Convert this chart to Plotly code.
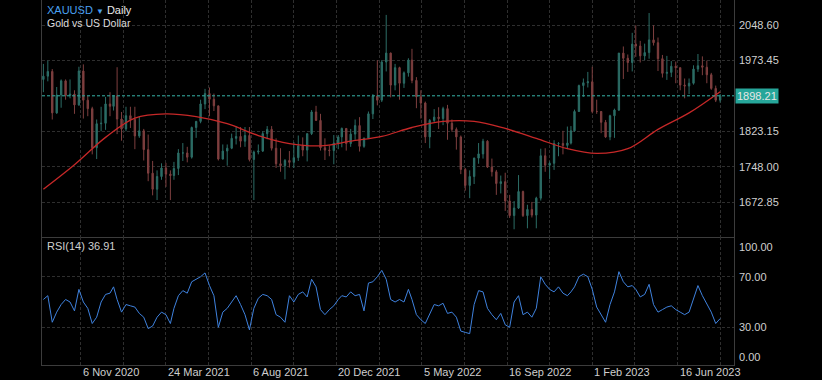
import numpy as np
import pandas as pd
import plotly.graph_objects as go

# ---------------- data ----------------
start_monday = "2020-09-07"
holidays = ["2020-12-25", "2021-01-01", "2021-04-02", "2021-12-24",
            "2022-04-15", "2022-12-26", "2023-01-02", "2023-04-07"]

# weekly candles (week 0 = week of 7 Sep 2020 ... week 154 = week of 21 Aug 2023)
week_open = [
    1933, 1940, 1950, 1862, 1900, 1930, 1899, 1902, 1879, 1951, 1889, 1871, 1788, 1839, 1840, 1881,
    1876, 1898, 1849, 1828, 1856, 1848, 1813, 1824, 1784, 1734, 1700, 1727, 1745, 1732, 1729, 1744,
    1777, 1777, 1768, 1831, 1844, 1881, 1903, 1891, 1877, 1764, 1781, 1787, 1808, 1812, 1802, 1814,
    1763, 1779, 1781, 1818, 1827, 1787, 1754, 1750, 1761, 1757, 1767, 1792, 1783, 1818, 1864, 1846,
    1788, 1783, 1782, 1798, 1811, 1829, 1797, 1817, 1835, 1791, 1808, 1860, 1898, 1889, 1970, 1989,
    1921, 1958, 1925, 1947, 1974, 1931, 1896, 1883, 1811, 1846, 1853, 1850, 1871, 1840, 1827, 1811,
    1742, 1708, 1727, 1766, 1775, 1802, 1747, 1737, 1712, 1716, 1675, 1644, 1660, 1695, 1644, 1657,
    1645, 1681, 1771, 1751, 1755, 1797, 1797, 1793, 1798, 1824, 1865, 1920, 1926, 1928, 1865, 1865,
    1842, 1811, 1856, 1868, 1989, 1978, 1969, 2008, 2004, 1983, 1990, 2017, 2011, 1977, 1946, 1948,
    1961, 1958, 1921, 1919, 1925, 1955, 1962, 1959, 1943, 1914, 1889]
week_high = [
    1966, 1973, 1955, 1917, 1933, 1933, 1933, 1910, 1960, 1965, 1898, 1875, 1848, 1875, 1896, 1906,
    1900, 1959, 1864, 1875, 1875, 1875, 1855, 1828, 1816, 1760, 1740, 1755, 1756, 1740, 1758, 1785,
    1798, 1790, 1833, 1845, 1890, 1913, 1916, 1903, 1877, 1795, 1795, 1818, 1834, 1832, 1832, 1832,
    1782, 1795, 1823, 1834, 1834, 1808, 1787, 1764, 1781, 1800, 1814, 1810, 1818, 1868, 1877, 1860,
    1808, 1793, 1815, 1815, 1831, 1830, 1828, 1848, 1853, 1810, 1865, 1902, 1974, 1974, 2070, 1990,
    1966, 1960, 1950, 1978, 1998, 1938, 1910, 1886, 1849, 1870, 1874, 1875, 1879, 1848, 1831, 1814,
    1745, 1740, 1767, 1798, 1807, 1804, 1765, 1741, 1729, 1735, 1688, 1675, 1730, 1697, 1667, 1673,
    1684, 1786, 1787, 1759, 1804, 1800, 1824, 1833, 1834, 1869, 1922, 1935, 1949, 1960, 1890, 1866,
    1847, 1858, 1871, 1989, 2003, 1986, 2032, 2048, 2015, 2009, 2074, 2048, 2022, 1985, 1983, 1972,
    1971, 1958, 1935, 1935, 1963, 1987, 1982, 1973, 1947, 1920, 1902]
week_low = [
    1906, 1929, 1848, 1860, 1873, 1890, 1893, 1860, 1877, 1850, 1855, 1774, 1764, 1823, 1826, 1855,
    1867, 1817, 1803, 1823, 1830, 1785, 1809, 1761, 1717, 1687, 1677, 1720, 1705, 1677, 1720, 1730,
    1760, 1757, 1765, 1809, 1840, 1870, 1855, 1866, 1761, 1763, 1750, 1785, 1795, 1789, 1790, 1759,
    1677, 1774, 1779, 1806, 1782, 1745, 1737, 1721, 1746, 1745, 1760, 1770, 1759, 1815, 1845, 1782,
    1762, 1770, 1753, 1785, 1789, 1782, 1790, 1805, 1780, 1788, 1807, 1849, 1878, 1885, 1950, 1895,
    1910, 1890, 1915, 1939, 1925, 1872, 1850, 1798, 1787, 1842, 1828, 1836, 1805, 1822, 1784, 1732,
    1697, 1681, 1711, 1754, 1765, 1745, 1727, 1688, 1691, 1654, 1639, 1615, 1658, 1641, 1617, 1640,
    1617, 1676, 1737, 1721, 1741, 1770, 1774, 1785, 1795, 1822, 1864, 1896, 1916, 1861, 1860, 1819,
    1809, 1804, 1809, 1866, 1934, 1949, 1950, 1981, 1969, 1974, 1977, 2005, 1951, 1937, 1932, 1938,
    1925, 1910, 1893, 1902, 1922, 1949, 1942, 1925, 1911, 1885, 1884]
week_close = [
    1940, 1950, 1862, 1900, 1930, 1899, 1902, 1879, 1951, 1889, 1871, 1788, 1839, 1840, 1881, 1876,
    1898, 1849, 1828, 1856, 1848, 1813, 1824, 1784, 1734, 1700, 1727, 1745, 1732, 1729, 1744, 1777,
    1777, 1768, 1831, 1844, 1881, 1903, 1891, 1877, 1764, 1781, 1787, 1808, 1812, 1802, 1814, 1763,
    1779, 1781, 1818, 1827, 1787, 1754, 1750, 1761, 1757, 1767, 1792, 1783, 1818, 1864, 1846, 1788,
    1783, 1782, 1798, 1811, 1829, 1797, 1817, 1835, 1791, 1808, 1860, 1898, 1889, 1970, 1989, 1921,
    1958, 1925, 1947, 1974, 1931, 1896, 1883, 1811, 1846, 1853, 1850, 1871, 1840, 1827, 1811, 1742,
    1708, 1727, 1766, 1775, 1802, 1747, 1737, 1712, 1716, 1675, 1644, 1660, 1695, 1644, 1657, 1645,
    1681, 1771, 1751, 1755, 1797, 1797, 1793, 1798, 1824, 1865, 1920, 1926, 1928, 1865, 1865, 1842,
    1811, 1856, 1868, 1989, 1978, 1969, 2008, 2004, 1983, 1990, 2017, 2011, 1977, 1946, 1948, 1961,
    1958, 1921, 1919, 1925, 1955, 1962, 1959, 1943, 1914, 1889, 1898.21]

# moving average (red), read every 7th week
ma_every7 = [1700, 1752, 1810, 1851, 1860, 1854, 1839, 1814, 1797, 1792, 1802, 1812,
             1831, 1844, 1844, 1829, 1808, 1786, 1776, 1786, 1827, 1862, 1907]

# RSI(14), one reading per week
rsi_weekly = [
    52, 55, 34, 42, 48, 52, 50, 43, 60, 50, 45, 33, 38, 50, 56, 57, 62, 52, 42, 48,
    47, 46, 41, 38, 29, 31, 38, 42, 40, 33, 45, 55, 59, 57, 66, 68, 70, 73, 63, 55,
    30, 42, 45, 50, 55, 48, 40, 28, 45, 53, 56, 55, 52, 40, 38, 34, 55, 50, 56, 58,
    54, 68, 62, 44, 40, 44, 47, 52, 55, 54, 58, 55, 56, 43, 65, 66, 70, 75, 68, 52,
    50, 52, 50, 60, 52, 40, 36, 33, 40, 48, 47, 49, 41, 42, 38, 27, 26, 25, 48, 59,
    58, 45, 40, 36, 41, 32, 30, 50, 55, 40, 42, 38, 45, 70, 64, 60, 58, 62, 57, 55,
    58, 62, 70, 72, 70, 60, 46, 40, 34, 48, 58, 74, 66, 62, 63, 60, 54, 56, 64, 48,
    42, 44, 46, 47, 44, 42, 40, 42, 52, 63, 55, 48, 42, 33, 36.91]

tick_dates = ["2020-11-06", "2021-03-24", "2021-08-06", "2021-12-20",
              "2022-05-05", "2022-09-16", "2023-02-01", "2023-06-16"]
tick_labels = ["6 Nov 2020", "24 Mar 2021", "6 Aug 2021", "20 Dec 2021",
               "5 May 2022", "16 Sep 2022", "1 Feb 2023", "16 Jun 2023"]
price_ticks = [2048.60, 1973.45, 1898.30, 1823.15, 1748.00, 1672.85]
rsi_ticks = [100, 70, 30, 0]
last_price = 1898.21
rsi_last = 36.91

# ---------------- positions (trading-day index) ----------------
hol = np.array(holidays, dtype="datetime64[D]")
s0 = np.datetime64(start_monday)
n = len(week_close)
mondays = pd.date_range(start_monday, periods=n, freq="7D")
weds = (mondays + pd.Timedelta(days=2)).values.astype("datetime64[D]")
bar = np.busday_count(s0, weds, holidays=hol)
tick_bar = np.busday_count(s0, np.array(tick_dates, dtype="datetime64[D]"), holidays=hol)
grid_bar = sorted(list(tick_bar) + list(tick_bar + 48))

px_per_bar = 85.3 / 96.0
x0 = tick_bar[0] - (80.7 - 42.0) / px_per_bar
x1 = tick_bar[0] + (734.3 - 80.7) / px_per_bar

# ---------------- style ----------------
BG = "#000000"
GRID = "#2e2e2e"
BORDER = "#3c3c3c"
TXT = "#cfcfcf"
INC = "#2c6d66"
DEC = "#7e3f3f"
TEAL = "#26a69a"
FONT = "Liberation Sans, Arial, sans-serif"
split = (365 - 237) / 365.0
RSI_RANGE = [0.2, 101.4]

fig = go.Figure()
fig.add_trace(go.Candlestick(
    x=bar, open=week_open, high=week_high, low=week_low, close=week_close,
    increasing=dict(line=dict(color=INC, width=1), fillcolor=INC),
    decreasing=dict(line=dict(color=DEC, width=1), fillcolor=DEC),
    whiskerwidth=0, xaxis="x", yaxis="y", showlegend=False, hoverinfo="skip"))
fig.add_trace(go.Scatter(
    x=bar[::7], y=ma_every7, mode="lines", xaxis="x", yaxis="y",
    line=dict(color="#c62828", width=1.3, shape="spline", smoothing=1.0),
    showlegend=False, hoverinfo="skip"))
fig.add_trace(go.Scatter(
    x=bar, y=rsi_weekly, mode="lines", xaxis="x2", yaxis="y2",
    line=dict(color="#3f82de", width=1), showlegend=False, hoverinfo="skip"))

axis_common = dict(showgrid=True, gridcolor=GRID, griddash="3px,2px", gridwidth=1,
                   zeroline=False, showticklabels=False, ticks="",
                   showline=True, linecolor=BORDER, linewidth=1)
fig.update_layout(
    width=822, height=380, margin=dict(l=42, r=88, t=0, b=15),
    paper_bgcolor=BG, plot_bgcolor=BG, boxgap=0.45,
    font=dict(family=FONT, size=11, color=TXT),
    xaxis=dict(domain=[0, 1], anchor="y", range=[x0, x1], tickvals=grid_bar,
               rangeslider=dict(visible=False), **axis_common),
    xaxis2=dict(domain=[0, 1], anchor="y2", range=[x0, x1], tickvals=grid_bar,
                matches="x", **axis_common),
    yaxis=dict(domain=[split, 1], anchor="x", range=[1598.55, 2101.67],
               tickvals=price_ticks, mirror=True, **axis_common),
    yaxis2=dict(domain=[0, split], anchor="x2", range=RSI_RANGE,
                tickvals=[30, 70], mirror=True, **axis_common),
)

# current price line
fig.add_shape(type="line", xref="paper", x0=0, x1=1, yref="y", y0=last_price, y1=last_price,
              line=dict(color=TEAL, width=1, dash="3px,2px"))

def px_x(p):
    return (p - 42.0) / 692.0

def px_y(p):
    return (365.0 - p) / 365.0

# price axis labels
for v in price_ticks:
    if abs(v - last_price) < 5:
        continue
    fig.add_annotation(x=px_x(737), xref="paper", y=v, yref="y", text=f"{v:.2f}",
                       showarrow=False, xanchor="left", yanchor="middle",
                       font=dict(size=11, color=TXT, family=FONT))
fig.add_annotation(x=px_x(735), xref="paper", y=last_price, yref="y", text=f"{last_price:.2f}",
                   showarrow=False, xanchor="left", yanchor="middle", bgcolor=TEAL, borderpad=1,
                   font=dict(size=11, color="#e6e6e6", family=FONT))

# RSI axis labels (clamped inside the pane like the reference)
for v in rsi_ticks:
    ya = "middle"
    yv = v
    if v == 100:
        ya = "top"
    elif v == 0:
        ya = "bottom"
        yv = RSI_RANGE[0] + 0.1
    fig.add_annotation(x=px_x(737), xref="paper", y=yv, yref="y2", text=f"{v:.2f}",
                       showarrow=False, xanchor="left", yanchor=ya,
                       font=dict(size=11, color=TXT, family=FONT))

# date labels
for b, lab in zip(tick_bar, tick_labels):
    fig.add_annotation(x=b, xref="x2", y=px_y(372), yref="paper", text=lab,
                       showarrow=False, xanchor="left", yanchor="middle", xshift=0,
                       font=dict(size=11, color=TXT, family=FONT))

# titles
fig.add_annotation(x=px_x(45), xref="paper", y=px_y(10), yref="paper",
                   text="<span style='color:#4aa0f0'>XAUUSD</span> <span style='color:#4aa0f0;font-size:8px'>▼</span> <span style='color:#e8e8e8'>Daily</span>",
                   showarrow=False, xanchor="left", yanchor="middle",
                   font=dict(size=11, family=FONT))
fig.add_annotation(x=px_x(45), xref="paper", y=px_y(23), yref="paper",
                   text="Gold vs US Dollar", showarrow=False, xanchor="left", yanchor="middle",
                   font=dict(size=10.5, color="#dcdcdc", family=FONT))
fig.add_annotation(x=px_x(45), xref="paper", y=px_y(246), yref="paper",
                   text=f"RSI(14) {rsi_last:.2f}", showarrow=False, xanchor="left", yanchor="middle",
                   font=dict(size=11, color=TXT, family=FONT))

fig.write_html("out.html", config={"displayModeBar": False},
               post_script="document.body.style.margin='0px';document.body.style.background='#000';")
